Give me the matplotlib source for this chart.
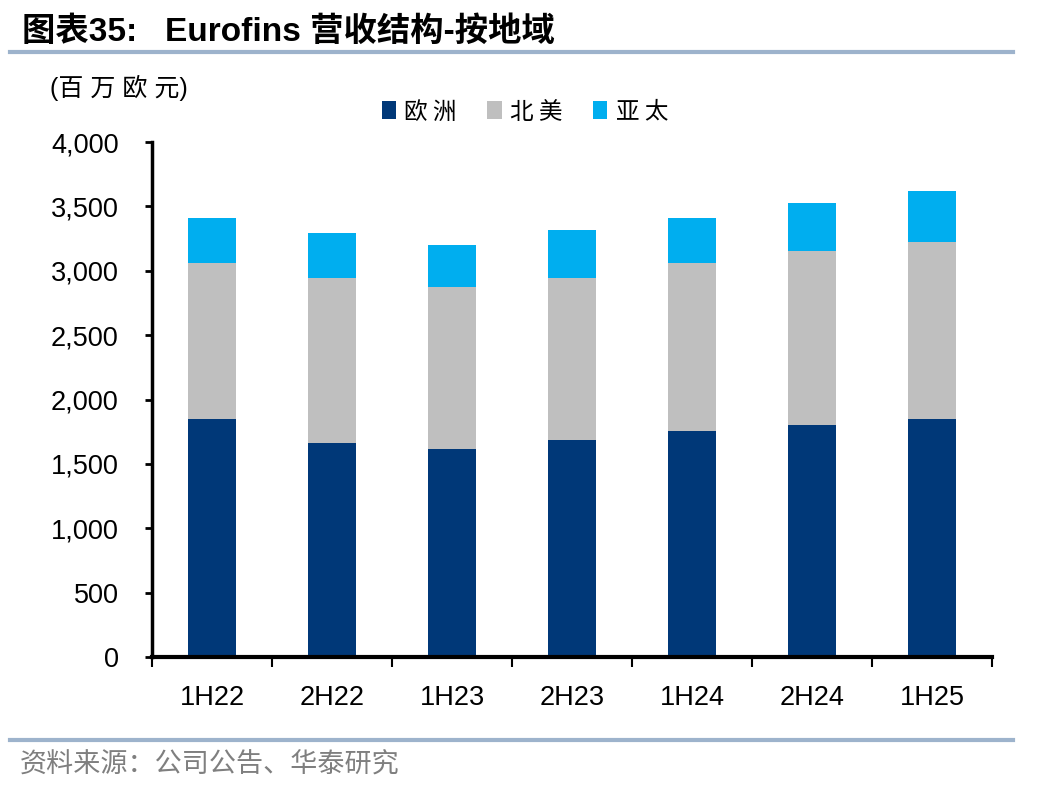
import matplotlib.pyplot as plt
import numpy as np

periods = ["1H22", "2H22", "1H23", "2H23", "1H24", "2H24", "1H25"]
europe = [1848, 1662, 1615, 1685, 1755, 1802, 1848]
north_america = [1212, 1282, 1259, 1259, 1305, 1351, 1375]
apac = [350, 349, 326, 372, 350, 373, 396]
series_names = ["欧 洲", "北 美", "亚 太"]
colors = ["#003878", "#BFBFBF", "#00AEEF"]

plt.rcParams['font.family'] = ['Liberation Sans', 'Noto Sans CJK SC', 'DejaVu Sans']

fig = plt.figure(figsize=(10.48, 7.92), dpi=100)
ax = fig.add_axes([152 / 1048, 1 - 657 / 792, 840 / 1048, 515 / 792])

x = np.arange(len(periods))
bottom = np.zeros(len(periods))
for vals, name, c in zip([europe, north_america, apac], series_names, colors):
    ax.bar(x, vals, width=0.4, bottom=bottom, color=c, label=name, zorder=2)
    bottom += np.array(vals)

ax.set_xlim(-0.5, len(periods) - 0.5)
ax.set_ylim(0, 4000)
ax.set_yticks(range(0, 4001, 500))
ax.set_yticklabels([f"{v:,}" for v in range(0, 4001, 500)], fontsize=19.5)
ax.set_xticks(x)
ax.set_xticklabels(periods, fontsize=19.5)
ax.set_xticks(np.arange(-0.5, len(periods)), minor=True)
ax.tick_params(axis='x', which='major', length=0, pad=20)
ax.tick_params(axis='x', which='minor', length=7, width=1.5, direction='out')
ax.tick_params(axis='y', length=5, width=2, direction='out', pad=19)

for s in ['top', 'right']:
    ax.spines[s].set_visible(False)
ax.spines['left'].set_linewidth(2.5)
ax.spines['bottom'].set_linewidth(3)

ax.legend(loc='center', bbox_to_anchor=(0.444, 1.058), ncol=3, frameon=False,
          handlelength=0.6, handleheight=0.8, handletextpad=0.35,
          columnspacing=1.3, prop={'family': ['Noto Sans CJK SC'], 'size': 17})

fig.text(50 / 1048, 1 - 88 / 792, "(百 万 欧 元)", fontsize=18, va='center',
         family=['Liberation Sans', 'Noto Sans CJK SC'])

fig.text(22 / 1048, 1 - 32 / 792, "图表35:   Eurofins 营收结构-按地域", fontsize=24,
         fontweight='bold', va='center', family=['Liberation Sans', 'Noto Sans CJK SC'])

line_color = "#9DB3CC"
fig.add_artist(plt.Line2D([10 / 1048, 1013 / 1048], [1 - 52 / 792] * 2, color=line_color, lw=3))
fig.add_artist(plt.Line2D([10 / 1048, 1013 / 1048], [1 - 740 / 792] * 2, color=line_color, lw=3))

fig.text(20 / 1048, 1 - 765 / 792, "资料来源：公司公告、华泰研究", fontsize=19.5, color="#7F7F7F",
         va='center', family=['Noto Sans CJK SC'])

fig.savefig("out.png", dpi=100)
